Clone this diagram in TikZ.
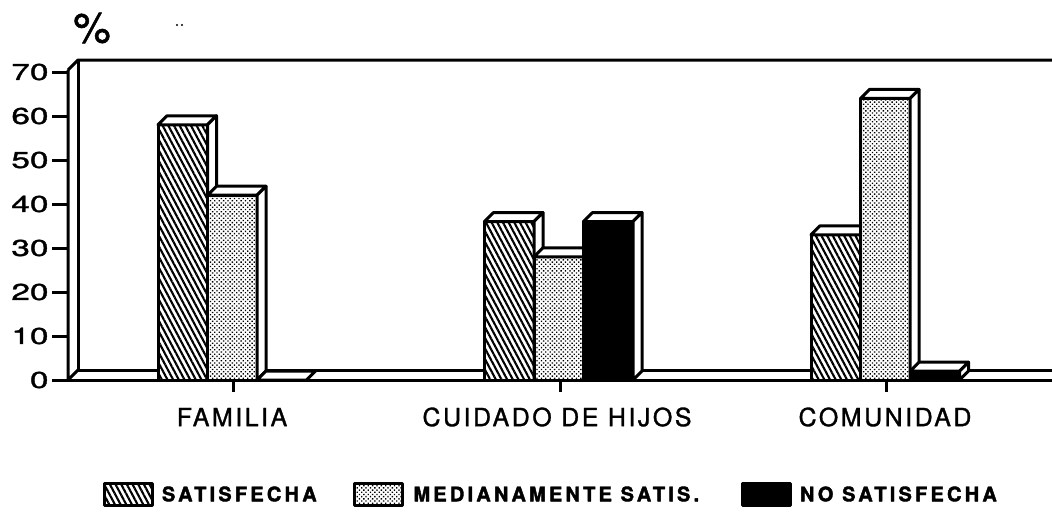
\documentclass[tikz,border=0pt]{standalone}
\usepackage{fontspec}
\setmainfont{TeX Gyre Heros}[FakeBold=1.2]
\newfontfamily\catfont[LetterSpace=10,FakeBold=1.2]{TeX Gyre Heros}
\newfontfamily\legfont[LetterSpace=16,FakeBold=2]{TeX Gyre Heros}
\usetikzlibrary{positioning,patterns.meta}
\tikzset{
  sat/.style={preaction={fill=white},pattern={Lines[angle=-62,distance=5pt,line width=2.1pt]}},
  med/.style={preaction={fill=white},pattern={Dots[angle=45,distance=3.1pt,radius=0.95pt]}},
  nosat/.style={fill=black},
  face/.style={draw,fill=white},
  cat/.style={font=\catfont\fontsize{25}{30}\selectfont,inner sep=0pt},
  ticklab/.style={anchor=east,inner sep=0pt,font=\fontsize{23}{28}\selectfont},
  legbox/.style={draw,minimum width=48pt,minimum height=22pt,inner sep=0pt},
  legtext/.style={font=\legfont\bfseries\fontsize{20}{24}\selectfont,inner sep=0pt,anchor=west}
}
\begin{document}
\begin{tikzpicture}[x=1pt,y=-1pt,line width=3pt,line join=round]
\useasboundingbox (0,0) rectangle (1052,512);
% wall and floor
\draw (68,70) -- (78,60) -- (1052,60);
\draw (78,60) -- (78,370) -- (1052,370);
\draw (68,70) -- (68,380) -- (78,370);
\draw (52,380) -- (1052,380);
\foreach \v in {0,10,...,70}{
  \pgfmathsetmacro\yv{380-4.4*\v}
  \draw (52,\yv) -- (68,\yv);
  \node[ticklab] (t\v) at (50,\yv) {\scalebox{1.45}[1]{\v}};
}
\node[font=\fontsize{42}{48}\selectfont,inner sep=0pt] (pct) at (92,28) {\%};
\fill (177,25) circle (1.2pt) (182,25) circle (1.2pt);
% bars
\foreach \x/\v/\s in {158/58/sat,207.5/42/med,484.5/36/sat,534/28/med,583.5/36/nosat,811/33/sat,860.5/64/med,910/2/nosat}{
  \pgfmathsetmacro\yt{380-4.4*\v}
  \draw[\s] (\x,380) rectangle ({\x+49.5},\yt);
  \draw[face] (\x,\yt) -- ++(9,-9) -- ++(49.5,0) -- ++(-9,9) -- cycle;
  \draw[face] ({\x+49.5},380) -- ++(9,-9) -- ({\x+58.5},{\yt-9}) -- ({\x+49.5},\yt) -- cycle;
}
\draw[face] (257,380) -- ++(9,-9) -- ++(49.5,0) -- ++(-9,9) -- cycle;
% categories
\draw (233,380) -- (233,392);
\draw (560,380) -- (560,392);
\draw (886,380) -- (886,392);
\node[cat] (fam) at (232,417) {FAMILIA};
\node[cat] (cuid) at (557,417) {CUIDADO DE HIJOS};
\node[cat] (com) at (885,417) {COMUNIDAD};
% legend
\node[legbox,sat] (ksat) at (128,494) {};
\node[legtext,right=7pt of ksat] (lsat) {SATISFECHA};
\node[legbox,med] (kmed) at (378.5,494) {};
\node[legtext,right=8pt of kmed] (lmed) {MEDIANAMENTE SATIS.};
\node[legbox,nosat] (knos) at (766,494) {};
\node[legtext,right=7pt of knos] (lnos) {NO SATISFECHA};
\end{tikzpicture}
\end{document}
